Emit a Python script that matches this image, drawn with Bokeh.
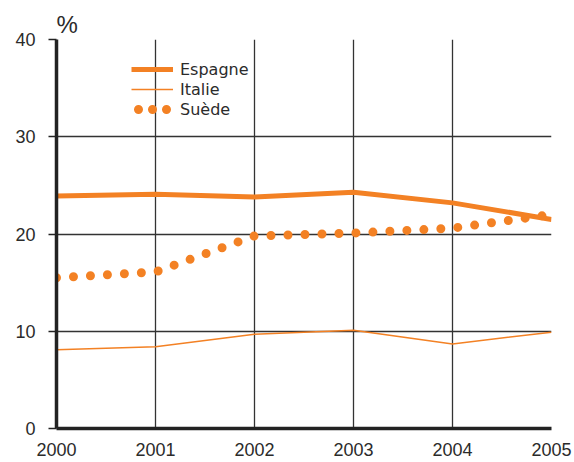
from bokeh.plotting import figure
from bokeh.models import (Range1d, FixedTicker, Legend, LegendItem, Title, Grid,
                          ColumnDataSource)
from bokeh.embed import file_html
from bokeh.resources import INLINE

years = [2000, 2001, 2002, 2003, 2004, 2005]
espagne = [23.9, 24.1, 23.8, 24.3, 23.2, 21.5]
italie = [8.1, 8.4, 9.7, 10.1, 8.7, 9.9]
suede = [15.5, 16.1, 19.8, 20.1, 20.6, 22.0]
y_ticks = [0, 10, 20, 30, 40]
series_names = ["Espagne", "Italie", "Suède"]

ORANGE = "#F38124"
TXT = "#2b2b2b"
NAN = float("nan")

p = figure(width=574, height=462, output_backend="svg", toolbar_location=None,
           x_range=Range1d(2000, 2005), y_range=Range1d(0, 40),
           min_border_left=56, min_border_right=23, min_border_top=39, min_border_bottom=34)
p.outline_line_color = None
p.background_fill_color = "white"
p.border_fill_color = "white"

# grids
p.xgrid.ticker = FixedTicker(ticks=years)
p.ygrid.ticker = FixedTicker(ticks=y_ticks[:-1])
for g in (p.xgrid, p.ygrid):
    g.grid_line_color = "#333333"
    g.grid_line_width = 1.3
top_grid = Grid(dimension=1, ticker=FixedTicker(ticks=y_ticks[-1:]),
                grid_line_color="#7a7a7a", grid_line_width=2.2)
p.add_layout(top_grid)

# axes
p.xaxis.ticker = FixedTicker(ticks=years)
p.yaxis.ticker = FixedTicker(ticks=y_ticks)
p.xaxis.major_tick_out = 0
p.xaxis.major_tick_in = 0
p.xaxis.minor_tick_line_color = None
p.xaxis.major_label_standoff = 14
p.yaxis.major_tick_out = 8
p.yaxis.major_tick_in = 0
p.yaxis.minor_tick_line_color = None
p.yaxis.major_tick_line_color = "#222222"
p.yaxis.major_tick_line_width = 1.5
p.yaxis.major_label_standoff = 13
for ax in (p.xaxis, p.yaxis):
    ax.axis_line_color = "#222222"
    ax.axis_line_width = 3.5
    ax.major_label_text_font = "Liberation Sans"
    ax.major_label_text_font_size = "18px"
    ax.major_label_text_color = TXT

src = ColumnDataSource(dict(x=years, esp=espagne, ita=italie, sue=suede))

r_sue = p.line("x", "sue", source=src, line_color=ORANGE, line_width=9,
               line_dash="0 17", line_cap="round")
r_ita = p.line("x", "ita", source=src, line_color=ORANGE, line_width=1.5)
r_esp = p.line("x", "esp", source=src, line_color=ORANGE, line_width=5)

# legend-only swatch for the dotted series (tighter dot spacing, as in the reference)
swatch = ColumnDataSource(dict(x=[NAN], y=[NAN]))
r_sue_leg = p.line("x", "y", source=swatch, line_color=ORANGE, line_width=9,
                   line_dash="0 14", line_dash_offset=7, line_cap="round")

legend = Legend(items=[
    LegendItem(label=series_names[0], renderers=[r_esp]),
    LegendItem(label=series_names[1], renderers=[r_ita]),
    LegendItem(label=series_names[2], renderers=[r_sue_leg]),
], location=(75, 309))
legend.background_fill_alpha = 0
legend.border_line_color = None
legend.padding = 0
legend.margin = 0
legend.spacing = 0
legend.glyph_width = 42
legend.glyph_height = 20
legend.label_height = 20
legend.label_standoff = 7
legend.label_text_font = "DejaVu Sans"
legend.label_text_font_size = "16px"
legend.label_text_color = TXT
p.add_layout(legend, "center")

pct = Title(text="%", align="left", offset=0, standoff=4, text_font="Liberation Sans",
            text_font_size="24px", text_font_style="normal", text_color=TXT)
p.add_layout(pct, "above")

open("out.html", "w").write(file_html(p, INLINE))
